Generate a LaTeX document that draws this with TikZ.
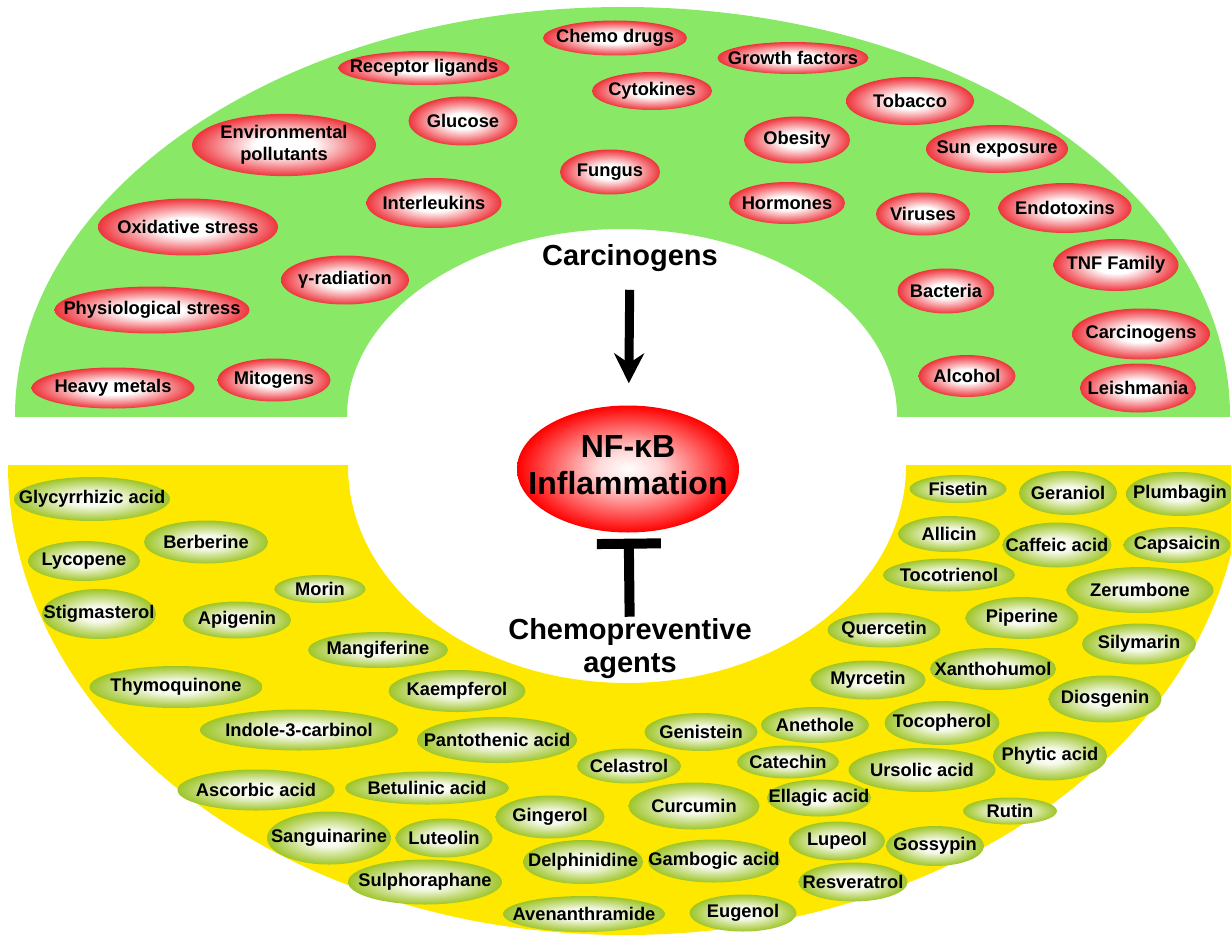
\documentclass[tikz,border=0pt]{standalone}
\usepackage{fontspec}
\setmainfont{Liberation Sans}
\usetikzlibrary{shapes.geometric,arrows.meta}

\definecolor{ringgreen}{RGB}{137,233,102}
\definecolor{ringyellow}{RGB}{255,232,0}
\definecolor{ballred}{RGB}{238,52,60}
\definecolor{ballgreen}{RGB}{158,197,40}
\pgfdeclareradialshading{redball}{\pgfpointorigin}{color(0bp)=(white); color(8bp)=(white); color(25bp)=(ballred); color(50bp)=(ballred)}
\pgfdeclareradialshading{greenball}{\pgfpointorigin}{color(0bp)=(white); color(8bp)=(white!90!ballgreen); color(25bp)=(ballgreen); color(50bp)=(ballgreen)}
\pgfdeclareradialshading{nfball}{\pgfpointorigin}{color(0bp)=(white); color(7bp)=(red!15); color(25bp)=(red); color(50bp)=(red)}

\tikzset{
  blob/.style 2 args={ellipse, inner sep=0pt, minimum width=#1pt, minimum height=#2pt,
    font=\fontsize{18.3}{21.5}\selectfont\bfseries,
    execute at begin node={\hbox to 0pt\bgroup\hss},
    execute at end node={\hss\egroup}},
  rb/.style 2 args={blob={#1}{#2}, shade, shading=redball},
  gb/.style 2 args={blob={#1}{#2}, shade, shading=greenball},
  big/.style={inner sep=0pt, align=center, font=\fontsize{29}{33}\selectfont\bfseries},
}

\begin{document}
\begin{tikzpicture}[x=1pt,y=-1pt]
  \useasboundingbox (0,0) rectangle (1231,939);
  % the two half rings
  \begin{scope}
    \clip (0,0) rectangle (1231,416);
    \fill[ringgreen, even odd rule] (622.5,416) ellipse [x radius=607.5, y radius=409]
      (622,416) ellipse [x radius=275, y radius=187];
  \end{scope}
  \begin{scope}
    \clip (0,465) rectangle (1231,939);
    \fill[ringyellow, even odd rule] (625,465) ellipse [x radius=617, y radius=470]
      (627,466) ellipse [x radius=279, y radius=217];
  \end{scope}

  % inducers
  \path
    (615,38) node[rb={144}{35}] (chemodrugs){Chemo drugs}
    (424,68) node[rb={171}{34}] (receptor){Receptor ligands}
    (793,58) node[rb={151}{32}] (growth){Growth factors}
    (652,91) node[rb={120}{38}] (cytokines){Cytokines}
    (910,101) node[rb={128}{48}] (tobacco){Tobacco}
    (284,145) node[rb={184}{60}] (environ){\begin{tabular}{@{}c@{}}Environmental\\[1pt]pollutants\end{tabular}}
    (463,121) node[rb={109}{49}] (glucose){Glucose}
    (797,140) node[rb={106}{47}] (obesity){Obesity}
    (997,149) node[rb={142}{48}] (sun){Sun exposure}
    (610,172) node[rb={100}{45}] (fungus){Fungus}
    (434,203) node[rb={135}{50}] (interleukins){Interleukins}
    (787,203) node[rb={116}{42}] (hormones){Hormones}
    (923,214) node[rb={94}{43}] (viruses){Viruses}
    (1065,208) node[rb={133}{50}] (endotoxins){Endotoxins}
    (188,227) node[rb={180}{57}] (oxidative){Oxidative stress}
    (345,280) node[rb={128}{49}] (gamma){γ-radiation}
    (1116,265) node[rb={125}{52}] (tnf){TNF Family}
    (152,310) node[rb={195}{47}] (physio){Physiological stress}
    (946,291) node[rb={97}{45}] (bacteria){Bacteria}
    (1141,334) node[rb={138}{51}] (carcino){Carcinogens}
    (113,388) node[rb={163}{41}] (heavy){Heavy metals}
    (274,380) node[rb={113}{43}] (mitogens){Mitogens}
    (967,376) node[rb={97}{42}] (alcohol){Alcohol}
    (1138,388) node[rb={116}{49}] (leish){Leishmania};

  % blockers
  \path
    (92,499) node[gb={156}{44}] (glycyr){Glycyrrhizic acid}
    (206,542) node[gb={124}{43}] (berberine){Berberine}
    (84,561) node[gb={112}{40}] (lycopene){Lycopene}
    (320,589) node[gb={91}{28}] (morin){Morin}
    (99,614) node[gb={114}{50}] (stigma){Stigmasterol}
    (237,620) node[gb={108}{37}] (apigenin){Apigenin}
    (378,650) node[gb={140}{36}] (mangif){Mangiferine}
    (176,687) node[gb={173}{42}] (thymo){Thymoquinone}
    (457,691) node[gb={137}{42}] (kaemp){Kaempferol}
    (299,730) node[gb={198}{41}] (indole){Indole-3-carbinol}
    (497,740) node[gb={160}{46}] (panto){Pantothenic acid}
    (256,790) node[gb={157}{41}] (ascorbic){Ascorbic acid}
    (427,788) node[gb={164}{33}] (betulinic){Betulinic acid}
    (550,817) node[gb={109}{43}] (gingerol){Gingerol}
    (329,838) node[gb={124}{53}] (sangui){Sanguinarine}
    (444,838) node[gb={97}{39}] (luteolin){Luteolin}
    (425,882) node[gb={154}{45}] (sulpho){Sulphoraphane}
    (583,862) node[gb={120}{44}] (delphin){Delphinidine}
    (584,914) node[gb={162}{36}] (avenan){Avenanthramide}
    (629,766) node[gb={104}{35}] (celastrol){Celastrol}
    (958,489) node[gb={97}{28}] (fisetin){Fisetin}
    (1068,493) node[gb={98}{44}] (geraniol){Geraniol}
    (1180,494) node[gb={108}{44}] (plumbagin){Plumbagin}
    (949,534) node[gb={102}{36}] (allicin){Allicin}
    (1057,545) node[gb={109}{45}] (caffeic){Caffeic acid}
    (1177,545) node[gb={107}{36}] (capsaicin){Capsaicin}
    (949,575) node[gb={132}{33}] (tocotri){Tocotrienol}
    (1140,590) node[gb={147}{46}] (zerumbone){Zerumbone}
    (1022,618) node[gb={113}{42}] (piperine){Piperine}
    (884,630) node[gb={113}{35}] (quercetin){Quercetin}
    (1139,644) node[gb={114}{41}] (silymarin){Silymarin}
    (993,669) node[gb={126}{42}] (xantho){Xanthohumol}
    (868,680) node[gb={115}{39}] (myrcetin){Myrcetin}
    (1105,699) node[gb={113}{47}] (diosgenin){Diosgenin}
    (701,732) node[gb={113}{38}] (genistein){Genistein}
    (815,725) node[gb={108}{36}] (anethole){Anethole}
    (942,723) node[gb={115}{44}] (tocoph){Tocopherol}
    (788,762) node[gb={102}{33}] (catechin){Catechin}
    (922,770) node[gb={147}{44}] (ursolic){Ursolic acid}
    (1050,756) node[gb={114}{49}] (phytic){Phytic acid}
    (694,806) node[gb={131}{47}] (curcumin){Curcumin}
    (819,798) node[gb={104}{37}] (ellagic){Ellagic acid}
    (1010,811) node[gb={94}{27}] (rutin){Rutin}
    (837,841) node[gb={96}{39}] (lupeol){Lupeol}
    (935,846) node[gb={98}{40}] (gossypin){Gossypin}
    (714,861) node[gb={132}{43}] (gambogic){Gambogic acid}
    (853,882) node[gb={109}{39}] (resvera){Resveratrol}
    (743,913) node[gb={107}{37}] (eugenol){Eugenol};

  % centre
  \node[big] (carc) at (630,258) {Carcinogens};
  \node[ellipse, inner sep=0pt, minimum width=222pt, minimum height=127pt, shade, shading=nfball,
    font=\fontsize{32}{37}\selectfont\bfseries] (nfkb) at (628,469)
    {\hbox to 0pt{\hss\begin{tabular}{@{}c@{}}NF-κB\\Inflammation\end{tabular}\hss}};
  \node[big] (chemoprev) at (630,649) {Chemopreventive\\agents};

  \draw[line width=9pt, shorten <=18pt, shorten >=22pt,
    -{Stealth[length=30pt, width=30pt, inset=10pt]}] (carc) -- (nfkb);
  \draw[line width=10pt, shorten <=2pt, shorten >=6pt,
    -{Bar[width=64pt, line width=10pt]}] (chemoprev) -- (nfkb);
\end{tikzpicture}
\end{document}
